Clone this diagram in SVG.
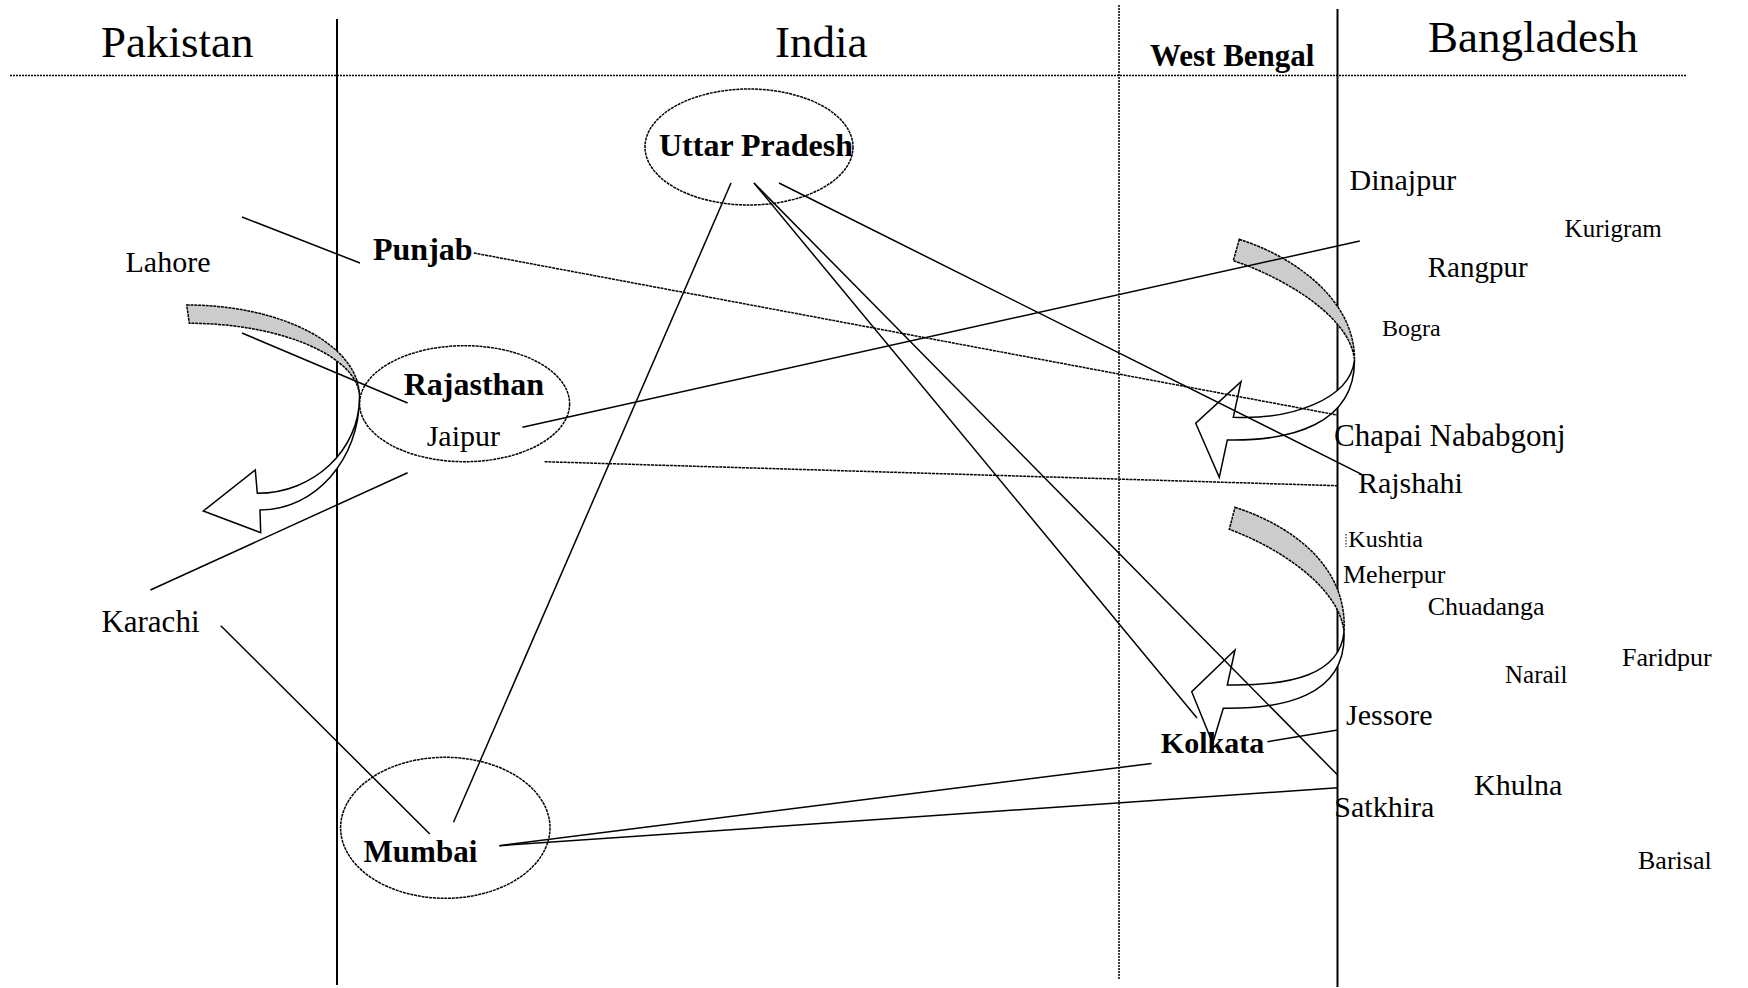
<svg xmlns="http://www.w3.org/2000/svg" width="1748" height="988" viewBox="0 0 1748 988">
<style>
text{font-family:"Liberation Serif","Times New Roman",serif;fill:#000}
.b{font-weight:bold}
.solid{stroke:#000;stroke-width:2;fill:none}
.dot{stroke:#000;stroke-width:1.5;fill:none;stroke-dasharray:2 1}
.ln{stroke:#000;stroke-width:1.5;fill:none}
.lnd{stroke:#000;stroke-width:1.5;fill:none;stroke-dasharray:3 0.8}
.ell{stroke:#000;stroke-width:1.5;fill:none;stroke-dasharray:3 0.8}
.grey{fill:#cccccc;stroke:#000;stroke-width:1.5;stroke-dasharray:3 0.8}
.white{fill:#fff;stroke:#000;stroke-width:1.5}
</style>
<rect width="1748" height="988" fill="#fff"/>

<g id="frame">
  <line class="dot" x1="10" y1="75.5" x2="1687" y2="75.5"/>
  <line class="solid" x1="337" y1="19" x2="337" y2="985"/>
  <line class="dot" x1="1119" y1="5" x2="1119" y2="980"/>
  <line class="solid" x1="1337.5" y1="9" x2="1337.5" y2="987"/>
  <text x="101" y="57" font-size="45">Pakistan</text>
  <text x="775" y="57" font-size="45">India</text>
  <text class="b" x="1150" y="66" font-size="31">West Bengal</text>
  <text x="1428" y="52" font-size="45">Bangladesh</text>
</g>

<g id="arrow-left">
  <path class="grey" d="M186.7,305 C282.2,305 359.7,345.3 359.5,397 C359.3,357.7 283.1,323.3 189.3,323.3 Z"/>
  <path class="white" d="M359.5,397 C359.5,450 313.8,493.3 257.3,493.3 L255.3,470 L203.3,511 L260.7,532.7 L260,510 C315,510 359.5,459.4 359.5,397 Z"/>
</g>
<g id="arrow-upper-right">
  <path class="grey" d="M1239.3,239.3 C1295,257 1355,300 1354.5,360 C1350,315 1280,276 1233.3,260.7 Z"/>
  <path class="white" d="M1354.5,360 C1350,400 1290,420 1233.3,417.3 L1241,381.7 L1195.7,423.3 L1219.3,477.3 L1227.3,440 C1290,441 1355,425 1354.5,360 Z"/>
</g>
<g id="arrow-lower-right">
  <path class="grey" d="M1235,507.3 C1290,525 1348,565 1344,632 C1340,590 1285,550 1229.3,529.3 Z"/>
  <path class="white" d="M1344,632 C1340,675 1290,686 1227.3,685 L1235,650 L1191.7,691.7 L1212.7,743.3 L1223.3,708.3 C1280,709 1347,698 1344,632 Z"/>
</g>

<g id="connectors">
  <line class="ln" x1="242" y1="217" x2="360" y2="263"/>
  <line class="ln" x1="242" y1="333" x2="407.6" y2="403"/>
  <line class="ln" x1="407.6" y1="472.7" x2="150.4" y2="590"/>
  <line class="ln" x1="220.8" y1="625.7" x2="429.8" y2="834"/>
  <line class="lnd" x1="473.8" y1="253" x2="1337" y2="415"/>
  <line class="ln" x1="522.4" y1="427.3" x2="1359.8" y2="241"/>
  <line class="lnd" x1="544.6" y1="461.7" x2="1337" y2="485.7"/>
  <line class="ln" x1="731" y1="183" x2="453.5" y2="822.3"/>
  <line class="ln" x1="754" y1="183" x2="1197" y2="718"/>
  <line class="ln" x1="754" y1="183" x2="1337.6" y2="775"/>
  <line class="ln" x1="779" y1="183" x2="1361.7" y2="474.3"/>
  <line class="ln" x1="499.4" y1="845.7" x2="1151.5" y2="763.5"/>
  <line class="ln" x1="499.4" y1="845.7" x2="1337.6" y2="787.7"/>
  <line class="ln" x1="1267.4" y1="741.7" x2="1337.6" y2="730"/>
</g>

<g id="node-uttar-pradesh">
  <ellipse class="ell" cx="749" cy="147" rx="104" ry="58"/>
  <text class="b" x="659" y="156" font-size="32">Uttar Pradesh</text>
</g>
<g id="node-rajasthan">
  <ellipse class="ell" cx="464.6" cy="403.7" rx="105" ry="58"/>
  <text class="b" x="403.7" y="395" font-size="32">Rajasthan</text>
  <text x="426.7" y="445.7" font-size="30">Jaipur</text>
</g>
<g id="node-mumbai">
  <ellipse class="ell" cx="445.3" cy="827.8" rx="104.7" ry="70.5"/>
  <text class="b" x="363.6" y="861.7" font-size="31">Mumbai</text>
</g>
<g id="node-punjab"><text class="b" x="373" y="260" font-size="32">Punjab</text></g>
<g id="node-kolkata"><text class="b" x="1160.8" y="753.3" font-size="30">Kolkata</text></g>
<g id="node-lahore"><text x="125.5" y="272" font-size="30">Lahore</text></g>
<g id="node-karachi"><text x="101.4" y="631.7" font-size="31">Karachi</text></g>
<g id="node-dinajpur"><text x="1349.5" y="190" font-size="30">Dinajpur</text></g>
<g id="node-kurigram"><text x="1564.6" y="237" font-size="25">Kurigram</text></g>
<g id="node-rangpur"><text x="1427.7" y="277" font-size="29">Rangpur</text></g>
<g id="node-bogra"><text x="1381.9" y="336" font-size="24">Bogra</text></g>
<g id="node-chapai"><text x="1334" y="445.7" font-size="31">Chapai Nababgonj</text></g>
<g id="node-rajshahi"><text x="1357.9" y="492.7" font-size="30">Rajshahi</text></g>
<g id="node-kushtia">
  <line x1="1346" y1="534" x2="1346" y2="547" stroke="#000" stroke-width="1" stroke-dasharray="1.5 1.5"/>
  <text x="1348.3" y="547" font-size="24">Kushtia</text>
</g>
<g id="node-meherpur"><text x="1343" y="583.3" font-size="26">Meherpur</text></g>
<g id="node-chuadanga"><text x="1427.7" y="615" font-size="26">Chuadanga</text></g>
<g id="node-faridpur"><text x="1622" y="665.5" font-size="26">Faridpur</text></g>
<g id="node-narail"><text x="1505" y="683" font-size="25">Narail</text></g>
<g id="node-jessore"><text x="1346" y="725" font-size="30">Jessore</text></g>
<g id="node-khulna"><text x="1474" y="795" font-size="30">Khulna</text></g>
<g id="node-satkhira"><text x="1334.3" y="816.7" font-size="30">Satkhira</text></g>
<g id="node-barisal"><text x="1638" y="869" font-size="26">Barisal</text></g>
</svg>
